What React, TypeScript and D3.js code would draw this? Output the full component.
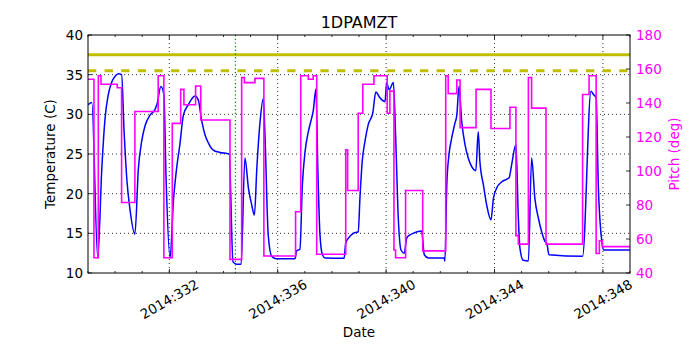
import * as d3 from "d3";

// 1DPAMZT temperature (C) vs day of year 2014
const tempData: [number, number][] = [
  [329.0, 31.2], [329.14, 31.5], [329.36, 11.9], [329.51, 23.2], [329.63, 29.5],
  [329.75, 32.5], [329.87, 34.0], [330.0, 34.8], [330.12, 35.1], [330.24, 35.0],
  [330.33, 28.0], [330.44, 21.5], [330.55, 18.0], [330.73, 14.9], [330.86, 23.2],
  [330.98, 26.6], [331.1, 28.5], [331.29, 29.9], [331.47, 30.6], [331.54, 31.2],
  [331.69, 33.5], [331.8, 32.5], [331.88, 22.0], [332.03, 11.9], [332.15, 19.0],
  [332.27, 23.2], [332.39, 26.2], [332.52, 29.9], [332.7, 31.2], [332.95, 32.3],
  [333.07, 31.8], [333.2, 29.1], [333.32, 27.4], [333.44, 26.4], [333.62, 25.5],
  [333.87, 25.2], [334.21, 25.0], [334.35, 11.4], [334.49, 11.1], [334.65, 11.1],
  [334.79, 24.5], [334.92, 20.7], [335.04, 18.6], [335.14, 17.3], [335.23, 23.2],
  [335.35, 29.1], [335.47, 32.0], [335.53, 27.4], [335.65, 14.8], [335.78, 12.1],
  [335.96, 11.8], [336.64, 11.8], [336.7, 12.8], [336.82, 13.0], [336.91, 21.1],
  [337.01, 25.3], [337.13, 27.8], [337.25, 29.5], [337.31, 30.4], [337.41, 33.2],
  [337.48, 23.2], [337.56, 14.8], [337.65, 12.3], [337.75, 11.9], [338.45, 11.85],
  [338.51, 13.75], [338.61, 14.4], [338.79, 15.0], [338.97, 15.2], [339.04, 19.8],
  [339.12, 24.1], [339.22, 26.6], [339.34, 28.7], [339.51, 30.2], [339.62, 32.8],
  [339.77, 32.1], [339.96, 31.6], [340.02, 34.0], [340.11, 33.1], [340.27, 34.0],
  [340.35, 27.4], [340.45, 16.9], [340.55, 12.9], [340.67, 12.5], [340.76, 14.4],
  [340.88, 14.8], [341.0, 15.0], [341.31, 15.3], [341.41, 12.3], [341.56, 11.9],
  [342.14, 11.9], [342.17, 11.5], [342.24, 21.1], [342.32, 24.9], [342.42, 27.0],
  [342.54, 28.9], [342.61, 29.9], [342.69, 33.5], [342.79, 29.1], [342.91, 26.2],
  [343.03, 24.5], [343.16, 23.4], [343.31, 22.9], [343.4, 27.8], [343.46, 24.1],
  [343.59, 21.1], [343.71, 18.6], [343.87, 16.7], [343.96, 19.4], [344.08, 20.7],
  [344.27, 21.5], [344.54, 22.0], [344.63, 23.6], [344.79, 26.2], [344.88, 16.9],
  [344.94, 13.1], [345.06, 11.6], [345.25, 11.5], [345.37, 24.5], [345.49, 19.4],
  [345.62, 16.9], [345.74, 15.2], [345.86, 14.0], [345.93, 13.75], [346.01, 12.3],
  [347.25, 12.1], [347.56, 32.9], [347.65, 32.5], [347.75, 32.1], [347.83, 21.1],
  [347.96, 14.0], [348.02, 12.9], [349.0, 12.9],
];

// pitch (deg), each value holds until the next day
const pitchData: [number, number][] = [
  [329.0, 154], [329.22, 49], [329.38, 156], [329.48, 151], [330.08, 149],
  [330.24, 81.5], [330.73, 135], [331.59, 156], [331.8, 49], [332.11, 128],
  [332.42, 148], [332.54, 139], [332.97, 150], [333.16, 130], [334.24, 48],
  [334.67, 155], [334.77, 152], [335.16, 154.5], [335.49, 50], [336.66, 76],
  [336.85, 156], [337.13, 154], [337.31, 156], [337.44, 51], [338.51, 112.5],
  [338.58, 88.5], [338.97, 134], [339.14, 151], [339.55, 156], [340.04, 134],
  [340.14, 147], [340.29, 53.5], [340.35, 49], [340.72, 88.5], [341.35, 53],
  [342.2, 156], [342.29, 145.5], [342.61, 153.5], [342.73, 125.5], [343.32, 148],
  [343.87, 125], [344.57, 137.5], [344.79, 62], [344.88, 57], [345.25, 155],
  [345.37, 137], [345.9, 57], [347.25, 145], [347.49, 156], [347.75, 51.5],
  [347.87, 59], [347.98, 55.5], [349.0, 55.5],
];

const tempTicks = [10, 15, 20, 25, 30, 35, 40];
const pitchTicks = [40, 60, 80, 100, 120, 140, 160, 180];
const dateTicks = [332, 336, 340, 344, 348];
const dayTicks = d3.range(329, 350);
const planningLimit = 37.5;
const cautionLimit = 35.5;
const markerDay = 334.44;

const W = 700;
const H = 350;
const margin = { top: 35, right: 70, bottom: 77, left: 88 };
const font = "DejaVu Sans, sans-serif";

export default function App() {
  const x = d3.scaleLinear().domain([329, 349]).range([margin.left, W - margin.right]);
  const yT = d3.scaleLinear().domain([10, 40]).range([H - margin.bottom, margin.top]);
  const yP = d3.scaleLinear().domain([40, 180]).range([H - margin.bottom, margin.top]);
  const x0 = margin.left;
  const x1 = W - margin.right;
  const y0 = margin.top;
  const y1 = H - margin.bottom;

  const tempLine = d3
    .line<[number, number]>()
    .x((d) => x(d[0]))
    .y((d) => yT(d[1]))
    .curve(d3.curveMonotoneX);
  const pitchLine = d3
    .line<[number, number]>()
    .x((d) => x(d[0]))
    .y((d) => yP(d[1]))
    .curve(d3.curveStepAfter);

  return (
    <svg
      width={W}
      height={H}
      style={{ position: "fixed", left: 0, top: 0, background: "#fff" }}
      fontFamily={font}
    >
      <defs>
        <clipPath id="plot">
          <rect x={x0} y={y0} width={x1 - x0} height={y1 - y0} />
        </clipPath>
      </defs>
      <rect width={W} height={H} fill="#fff" />

      {/* grid */}
      {tempTicks.slice(1, -1).map((t) => (
        <line key={"gy" + t} x1={x0} x2={x1} y1={yT(t)} y2={yT(t)} stroke="#000" strokeWidth={0.8} strokeDasharray="1,3" />
      ))}
      {dateTicks.map((d) => (
        <line key={"gx" + d} x1={x(d)} x2={x(d)} y1={y0} y2={y1} stroke="#000" strokeWidth={0.8} strokeDasharray="1,3" />
      ))}

      <g clipPath="url(#plot)">
        <line x1={x0} x2={x1} y1={yT(planningLimit)} y2={yT(planningLimit)} stroke="#bfbf00" strokeWidth={3} />
        <line x1={x0} x2={x1} y1={yT(cautionLimit)} y2={yT(cautionLimit)} stroke="#bfbf00" strokeWidth={3} strokeDasharray="8.3,8.3" />
        <line x1={x(markerDay)} x2={x(markerDay)} y1={y0} y2={y1} stroke="#008000" strokeWidth={1.2} strokeDasharray="1.2,2.5" />
        <path d={tempLine(tempData) ?? ""} fill="none" stroke="#0000ff" strokeWidth={1.5} />
        <path d={pitchLine(pitchData) ?? ""} fill="none" stroke="#ff00ff" strokeWidth={1.6} />
      </g>

      {/* ticks */}
      {dayTicks.map((d) => {
        const len = dateTicks.includes(d) ? 4 : 2;
        return (
          <g key={"tx" + d} stroke="#000" strokeWidth={0.8}>
            <line x1={x(d)} x2={x(d)} y1={y1} y2={y1 - len} />
            <line x1={x(d)} x2={x(d)} y1={y0} y2={y0 + len} />
          </g>
        );
      })}
      {tempTicks.map((t) => (
        <g key={"ty" + t}>
          <line x1={x0} x2={x0 + 4} y1={yT(t)} y2={yT(t)} stroke="#000" strokeWidth={0.8} />
          <text x={x0 - 5} y={yT(t)} textAnchor="end" dominantBaseline="central" fontSize={13.5}>
            {t}
          </text>
        </g>
      ))}
      {pitchTicks.map((p) => (
        <g key={"tp" + p}>
          <line x1={x1} x2={x1 - 4} y1={yP(p)} y2={yP(p)} stroke="#000" strokeWidth={0.8} />
          <text x={x1 + 6} y={yP(p)} dominantBaseline="central" fontSize={13.5} fill="#ff00ff">
            {p}
          </text>
        </g>
      ))}
      {dateTicks.map((d) => (
        <text
          key={"lx" + d}
          transform={`translate(${x(d)},${y1 + 26}) rotate(-30)`}
          textAnchor="middle"
          dominantBaseline="central"
          fontSize={13.5}
        >
          {`2014:${d}`}
        </text>
      ))}

      <rect x={x0} y={y0} width={x1 - x0} height={y1 - y0} fill="none" stroke="#000" strokeWidth={1} />

      <text x={(x0 + x1) / 2} y={28} textAnchor="middle" fontSize={16}>
        1DPAMZT
      </text>
      <text x={(x0 + x1) / 2} y={337} textAnchor="middle" fontSize={13.5}>
        Date
      </text>
      <text transform={`translate(55,${(y0 + y1) / 2}) rotate(-90)`} textAnchor="middle" fontSize={13.5}>
        Temperature (C)
      </text>
      <text transform={`translate(679,${(y0 + y1) / 2}) rotate(-90)`} textAnchor="middle" fontSize={13.5} fill="#ff00ff">
        Pitch (deg)
      </text>
    </svg>
  );
}
